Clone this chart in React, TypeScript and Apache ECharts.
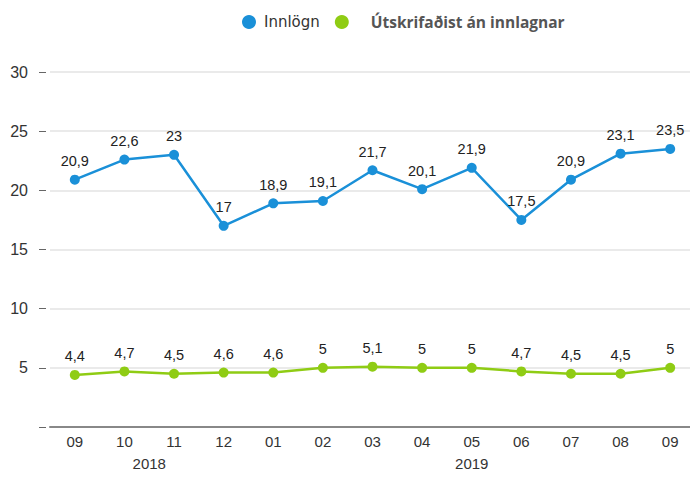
import React, { useEffect, useRef } from "react";
import * as echarts from "echarts";

const months = ["09", "10", "11", "12", "01", "02", "03", "04", "05", "06", "07", "08", "09"];
const yearLabels = [
  { at: 1.5, text: "2018" },
  { at: 8, text: "2019" },
];
const innlogn = [20.9, 22.6, 23, 17, 18.9, 19.1, 21.7, 20.1, 21.9, 17.5, 20.9, 23.1, 23.5];
const utskrifadist = [4.4, 4.7, 4.5, 4.6, 4.6, 5, 5.1, 5, 5, 4.7, 4.5, 4.5, 5];
const yTicks = { min: 0, max: 30, interval: 5 };

const fmt = (p: any) => String(p.value).replace(".", ",");

export default function App() {
  const ref = useRef<HTMLDivElement>(null);
  useEffect(() => {
    const chart = echarts.init(ref.current!, null, { renderer: "svg" });
    const font = "'Liberation Sans', Arial, sans-serif";
    const label = { show: true, position: "top", fontSize: 14.5, color: "#222", fontFamily: font, distance: 6, formatter: fmt };
    chart.setOption({
      animation: false,
      textStyle: { fontFamily: font },
      legend: {
        top: 9,
        left: 237,
        icon: "circle",
        itemWidth: 14,
        itemHeight: 14,
        itemGap: 15,
        data: [
          { name: "Innlögn", textStyle: { fontSize: 15, color: "#333", fontFamily: "'DejaVu Sans', sans-serif", fontWeight: "normal", padding: [0, 0, 0, 3] } },
          { name: "Útskrifaðist án innlagnar", textStyle: { fontSize: 15.5, color: "#555", fontFamily: "'Open Sans', sans-serif", fontWeight: "bold", padding: [0, 0, 0, 17] } },
        ],
      },
      grid: { left: 50, width: 645, top: 72, bottom: 52, outerBoundsMode: "none" },
      xAxis: [
        {
          type: "category",
          data: months,
          boundaryGap: true,
          axisLine: { onZero: false, lineStyle: { color: "#888", width: 2 } },
          axisTick: { show: false },
          axisLabel: { fontSize: 15, color: "#333", margin: 7, fontFamily: font },
        },
        {
          type: "value",
          min: -0.5,
          max: 12.5,
          interval: 0.5,
          position: "bottom",
          offset: 22,
          axisLine: { show: false, onZero: false },
          axisTick: { show: false },
          splitLine: { show: false },
          axisLabel: {
            fontSize: 15,
            color: "#333",
            margin: 7,
            fontFamily: font,
            showMinLabel: true,
            showMaxLabel: true,
            formatter: (v: number) => {
              const y = yearLabels.find((d) => Math.abs(d.at - v) < 1e-6);
              return y ? y.text : "";
            },
          },
        },
      ],
      yAxis: {
        type: "value",
        min: yTicks.min,
        max: yTicks.max,
        interval: yTicks.interval,
        offset: 4,
        axisLine: { show: false, onZero: false },
        axisTick: { show: true, length: 7, lineStyle: { color: "#666" } },
        axisLabel: {
          fontSize: 16,
          color: "#333",
          margin: 18,
          fontFamily: font,
          formatter: (v: number) => (v === 0 ? "" : String(v)),
        },
        splitLine: { lineStyle: { color: "#e3e3e3", width: 1.5 } },
      },
      series: [
        {
          name: "Innlögn",
          type: "line",
          xAxisIndex: 0,
          data: innlogn,
          color: "#1a90d8",
          symbol: "circle",
          symbolSize: 10,
          lineStyle: { width: 2.5 },
          label,
        },
        {
          name: "Útskrifaðist án innlagnar",
          type: "line",
          xAxisIndex: 0,
          data: utskrifadist,
          color: "#8fcc14",
          symbol: "circle",
          symbolSize: 10,
          lineStyle: { width: 2.5 },
          label,
        },
      ],
    });
    return () => chart.dispose();
  }, []);
  return <div ref={ref} style={{ position: "absolute", left: 0, top: 0, width: 690, height: 479 }} />;
}
